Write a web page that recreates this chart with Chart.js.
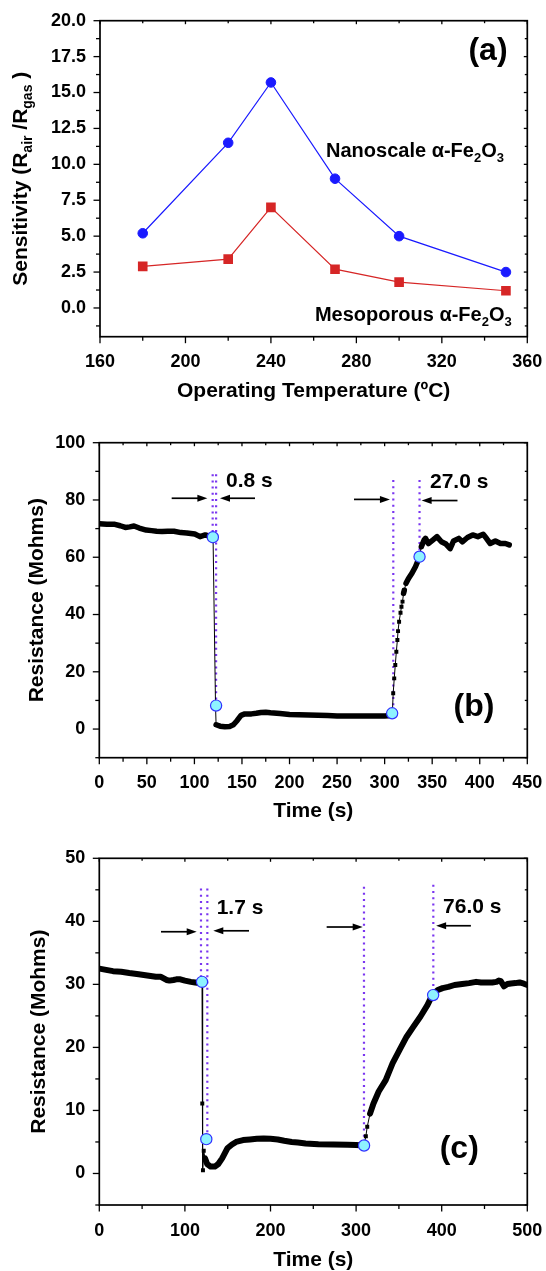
<!DOCTYPE html>
<html>
<head>
<meta charset="utf-8">
<script src="https://cdn.jsdelivr.net/npm/chart.js@4.4.1/dist/chart.umd.min.js"></script>
<style>
  html, body { margin: 0; padding: 0; background: #fff; }
  body { width: 546px; height: 1271px; position: relative; overflow: hidden; }
  .panneau { position: absolute; left: 0; width: 546px; }
</style>
</head>
<body>
<div class="panneau" style="top:0;height:420px"><canvas id="graph-a" width="546" height="420"></canvas></div>
<div class="panneau" style="top:420px;height:420px"><canvas id="graph-b" width="546" height="420"></canvas></div>
<div class="panneau" style="top:840px;height:431px"><canvas id="graph-c" width="546" height="431"></canvas></div>
<script>
/* ================= données ================= */

/* (a) sensibilité vs température */
const tempA  = [180, 220, 240, 270, 300, 350];
const nanoA  = [5.2, 11.5, 15.7, 9.0, 5.0, 2.5];
const mesoA  = [2.9, 3.4, 7.0, 2.7, 1.8, 1.2];
const xTicksA = [160, 200, 240, 280, 320, 360];
const yTicksA = [0, 2.5, 5, 7.5, 10, 12.5, 15, 17.5, 20];

/* (b) résistance vs temps */
const tempsB = [0, 8, 16.4, 22, 27.4, 32, 36.5, 42, 49.3, 55, 60.3, 66, 72, 78.5, 85.8, 92, 100.4, 105.9, 111.4, 116.9, 119.6,
  122.2, 122.8, 127, 132, 137, 141, 145, 149, 153, 160, 165, 170, 175, 180, 190, 200, 210, 220, 230, 240, 250, 260, 270, 280, 290, 300, 308,
  309, 310.1, 311.2, 312.3, 313.4, 314.1, 315.2, 316.7, 317.7, 318.8, 319.9, 320.7, 322.5, 325.1, 328.7, 332.4, 335.3, 336.7, 338.6, 341.5,
  343, 346, 350.6, 355, 359.7, 364.5, 368.9, 372.5, 378, 381.7, 387.1, 392.6, 398, 403.6, 407, 411, 416.4, 421.8, 427, 431];
const resB = [71.7, 71.5, 71.5, 71.0, 70.4, 70.6, 70.9, 70.2, 69.5, 69.3, 69.1, 69.0, 69.1, 69.1, 68.6, 68.5, 68.1, 67.2, 67.8, 67.2, 67.0,
  8.2, 1.5, 1.0, 0.8, 0.9, 1.5, 3.0, 4.8, 5.3, 5.3, 5.5, 5.8, 5.9, 5.7, 5.4, 5.1, 5.0, 4.9, 4.8, 4.7, 4.6, 4.6, 4.6, 4.6, 4.6, 4.6, 4.7,
  12.5, 17.7, 22.4, 27.0, 31.1, 34.2, 37.5, 40.6, 42.7, 44.5, 47.4, 48.5, 50.9, 52.6, 54.4, 56.7, 59.0, 60.2, 63.7, 66.0,
  66.6, 64.8, 66.0, 67.2, 65.4, 64.6, 63.0, 65.7, 66.6, 65.4, 66.9, 67.8, 67.2, 68.0, 66.6, 64.8, 65.7, 64.8, 64.8, 64.3];
const reperesTB = [119.4, 122.8, 307.9, 336.7];   /* points 10 % / 90 % */
const reperesRB = [67.0, 8.2, 5.5, 60.2];
const xTicksB = [0, 50, 100, 150, 200, 250, 300, 350, 400, 450];
const yTicksB = [0, 20, 40, 60, 80, 100];

/* (c) résistance vs temps */
const tempsC = [0, 8, 16, 25.6, 35, 46, 56, 66, 72, 78.5, 82, 86.6, 90, 94.7, 100, 106.9, 112, 117, 120,
  120.3, 121.1, 122, 123.5, 126, 130, 135, 139, 143.5, 149.6, 155, 159.8, 168, 176, 184, 192, 200, 208.5, 216, 224.8, 232, 241, 256, 273.6, 290, 300, 309.3,
  311.4, 313, 316.3, 320.3, 326.4, 334.6, 342.7, 350.8, 359, 367, 375.2, 383.3, 389, 395.5, 401, 407.7, 415, 424, 432, 440.2, 446, 452.4, 459, 464,
  466.7, 469, 472.8, 476.8, 480.9, 486, 491, 496, 500];
const resC = [32.5, 32.3, 32.1, 32.0, 31.8, 31.6, 31.4, 31.2, 31.2, 30.7, 30.6, 30.7, 30.8, 30.8, 30.6, 30.4, 30.3, 30.2, 30.4,
  11.1, 0.5, 3.6, 2.4, 1.5, 1.1, 1.1, 1.5, 2.4, 4.0, 4.6, 5.0, 5.3, 5.4, 5.5, 5.55, 5.5, 5.4, 5.2, 5.0, 4.9, 4.76, 4.65, 4.6, 4.55, 4.5, 4.45,
  5.9, 7.4, 9.5, 11.1, 13.0, 14.8, 17.5, 19.6, 21.7, 23.3, 24.9, 26.7, 28.3, 29.1, 29.4, 29.6, 29.9, 30.05, 30.2, 30.4, 30.3, 30.3, 30.3, 30.4,
  30.6, 30.5, 29.7, 30.05, 30.15, 30.2, 30.3, 30.1, 29.9];
const reperesTC = [120, 125, 309.3, 390];
const reperesRC = [30.4, 5.45, 4.44, 28.3];
const xTicksC = [0, 100, 200, 300, 400, 500];
const yTicksC = [0, 10, 20, 30, 40, 50];

/* pointillés verticaux : temps, haut, bas */
const pointillesB = [[119.2, 89, 67], [122.8, 89, 8.2], [309.1, 87, 5.5], [336.7, 87, 60.2]];
const pointillesC = [[118.8, 45.2, 30.4], [126.2, 45.2, 5.45], [309.2, 45.5, 4.44], [390.2, 45.8, 28.3]];
/* flèches : départ, pointe, niveau */
const flechesB = [[76.1, 113.6, 80.6], [163.7, 126.9, 80.6], [267.8, 305.6, 80.2], [376.6, 338.9, 79.8]];
const flechesC = [[72.1, 113.8, 38.35], [174.9, 133.2, 38.5], [265.6, 307.7, 39.1], [434.1, 393.5, 39.3]];

/* ================= rendu ================= */
const POLICE = '"Liberation Sans", Arial, Helvetica, sans-serif';
const VIOLET = '#7a35f0';
Chart.defaults.font.family = POLICE;
Chart.defaults.color = '#000';
Chart.defaults.animation = false;

const pts = (xs, ys) => xs.map((x, i) => ({ x, y: ys[i] }));

/* texte avec indices : morceaux = [texte, indice?] */
function largeurRiche(ctx, morceaux, taille){
  let w = 0;
  for (const [t, sub] of morceaux){ ctx.font = `bold ${sub ? Math.round(taille*0.66) : taille}px ${POLICE}`; w += ctx.measureText(t).width; }
  return w;
}
function texteRiche(ctx, morceaux, x, y, taille){
  let cx = x;
  ctx.textBaseline = 'alphabetic'; ctx.textAlign = 'left';
  for (const [t, sub] of morceaux){
    ctx.font = `bold ${sub ? Math.round(taille*0.66) : taille}px ${POLICE}`;
    ctx.fillText(t, cx, y + (sub ? taille*0.24 : 0));
    cx += ctx.measureText(t).width;
  }
}

/* segment fin (transition rapide) ou épais (acquisition dense) */
function raide(chart, a, b){
  const { x, y } = chart.scales;
  const dx = Math.abs(x.getPixelForValue(b.x) - x.getPixelForValue(a.x));
  const dy = Math.abs(y.getPixelForValue(b.y) - y.getPixelForValue(a.y));
  return dy > 3 * dx + 1;
}
const rayonTransition = ctx => {
  const d = ctx.dataset.data, i = ctx.dataIndex;
  const avant = i > 0 && raide(ctx.chart, d[i-1], d[i]);
  const apres = i < d.length - 1 && raide(ctx.chart, d[i], d[i+1]);
  return (avant || apres) ? 2.8 : 0;
};

/* cadre, graduations majeures/mineures, titres, annotations */
const decor = {
  id: 'decor',
  afterDatasetsDraw(chart, args, o){
    const { ctx, chartArea: a, scales: { x, y } } = chart;
    ctx.save();
    ctx.fillStyle = '#000'; ctx.strokeStyle = '#000';

    /* flèches */
    ctx.lineWidth = 1.7;
    (o.fleches || []).forEach(([x0, x1, v]) => {
      const px0 = x.getPixelForValue(x0), px1 = x.getPixelForValue(x1), py = y.getPixelForValue(v);
      const s = Math.sign(px1 - px0);
      ctx.beginPath(); ctx.moveTo(px0, py); ctx.lineTo(px1 - s*8, py); ctx.stroke();
      ctx.beginPath(); ctx.moveTo(px1, py); ctx.lineTo(px1 - s*10, py - 3.5); ctx.lineTo(px1 - s*10, py + 3.5); ctx.closePath(); ctx.fill();
    });

    /* textes dans le graphe */
    (o.textes || []).forEach(tx => {
      let px = x.getPixelForValue(tx.x);
      if (tx.centre) px -= largeurRiche(ctx, tx.t, tx.taille) / 2;
      texteRiche(ctx, tx.t, px, y.getPixelForValue(tx.y), tx.taille);
    });

    /* cadre + graduations */
    const mineurs = (maj, min, max) => {
      const pas = maj[1] - maj[0], r = [];
      for (let v = maj[0] - pas/2; v <= max + 1e-9; v += pas) if (v >= min - 1e-9) r.push(v);
      return r;
    };
    ctx.lineWidth = 1.3;
    const trait = (x0, y0, x1, y1) => { ctx.beginPath(); ctx.moveTo(x0, y0); ctx.lineTo(x1, y1); ctx.stroke(); };
    const gradX = (vals, lo, li) => vals.forEach(v => { const p = x.getPixelForValue(v);
      trait(p, a.bottom, p, a.bottom + lo); trait(p, a.top, p, a.top + li); });
    const gradY = (vals, lo, li) => vals.forEach(v => { const p = y.getPixelForValue(v);
      trait(a.left, p, a.left - lo, p); trait(a.right, p, a.right - li, p); });
    gradX(o.xMaj, 6.5, 3.5); gradX(mineurs(o.xMaj, x.min, x.max), 4, 2.5);
    gradY(o.yMaj, 6.5, 3.5); gradY(mineurs(o.yMaj, y.min, y.max), 4, 2.5);
    ctx.lineWidth = 1.7;
    ctx.strokeRect(a.left, a.top, a.right - a.left, a.bottom - a.top);

    /* titres d'axes */
    const tX = o.titreX, tY = o.titreY;
    texteRiche(ctx, tX.t, (a.left + a.right)/2 - largeurRiche(ctx, tX.t, tX.taille)/2, tX.ligne, tX.taille);
    ctx.translate(tY.ligne, (a.top + a.bottom)/2);
    ctx.rotate(-Math.PI/2);
    texteRiche(ctx, tY.t, -largeurRiche(ctx, tY.t, tY.taille)/2, 0, tY.taille);
    ctx.restore();
  }
};

/* les marges de débordement des étiquettes sont neutralisées : la zone de tracé suit layout.padding */
function echelles(p){
  return {
    x: { type: 'linear', min: p.xMin, max: p.xMax,
      grid: { display: false, drawTicks: false }, border: { display: false },
      afterBuildTicks: s => { s.ticks = p.xMaj.map(v => ({ value: v })); },
      afterFit: s => { s.height = p.hauteur - p.bas; s.paddingLeft = 0; s.paddingRight = 0; },
      ticks: { font: { size: 18, weight: 'bold' }, padding: 15, maxRotation: 0, autoSkip: false, callback: v => String(v) } },
    y: { type: 'linear', min: p.yMin, max: p.yMax,
      grid: { display: false, drawTicks: false }, border: { display: false },
      afterBuildTicks: s => { s.ticks = p.yMaj.map(v => ({ value: v })); },
      afterFit: s => { s.width = p.gauche; s.paddingTop = 0; s.paddingBottom = 0; },
      ticks: { font: { size: 18, weight: 'bold' }, padding: 14, autoSkip: false, callback: p.fmtY || (v => String(v)) } }
  };
}

function options(p, plug){
  return {
    responsive: false, animation: false,
    layout: { autoPadding: false, padding: { left: 0, right: 546 - p.droite, top: p.haut, bottom: 0 } },
    scales: echelles(p),
    plugins: { legend: { display: false }, tooltip: { enabled: false }, decor: Object.assign({ xMaj: p.xMaj, yMaj: p.yMaj }, plug) }
  };
}

const fe2o3 = [['α', 0], ['-Fe', 0], ['2', 1], ['O', 0], ['3', 1]];
const titreTemps = (ligne) => ({ t: [['Time (s)', 0]], taille: 21, ligne });
const titreRes = (ligne) => ({ t: [['Resistance (Mohms)', 0]], taille: 21, ligne });

/* ---- (a) ---- */
new Chart(document.getElementById('graph-a'), {
  type: 'scatter',
  data: { datasets: [
    { data: pts(tempA, nanoA), showLine: true, borderColor: '#1a1aff', backgroundColor: '#1a1aff', borderWidth: 1.2,
      pointStyle: 'circle', pointRadius: 4.8, pointBorderWidth: 1 },
    { data: pts(tempA, mesoA), showLine: true, borderColor: '#d62626', backgroundColor: '#d62626', borderWidth: 1.2,
      pointStyle: 'rect', pointRadius: 6.8, pointBorderWidth: 0 }
  ]},
  options: options(
    { xMin: 160, xMax: 360, yMin: -2, yMax: 20, xMaj: xTicksA, yMaj: yTicksA, gauche: 100, droite: 527.3, haut: 20.7, bas: 336.7, hauteur: 420,
      fmtY: v => v.toFixed(1) },
    { textes: [
        { t: [['Nanoscale ', 0]].concat(fe2o3), x: 265.8, y: 10.5, taille: 20 },
        { t: [['Mesoporous ', 0]].concat(fe2o3), x: 260.6, y: -0.9, taille: 20 },
        { t: [['(a)', 0]], x: 341.6, y: 17.26, taille: 32, centre: true } ],
      titreX: { t: [['Operating Temperature (ºC)', 0]], taille: 21, ligne: 397.3 },
      titreY: { t: [['Sensitivity (R', 0], ['air', 1], [' /R', 0], ['gas', 1], [' )', 0]], taille: 21, ligne: 27 } })
  ,
  plugins: [decor]
});

/* ---- (b) et (c) : même construction ---- */
function graphResistance(id, temps, res, repT, repR, pointilles, fleches, p, textes, epais){
  const ds = [
    { data: pts(repT, repR), showLine: false, pointStyle: 'circle', pointRadius: 5.6,
      backgroundColor: '#8ef2ff', borderColor: '#3232ff', pointBorderWidth: 1.2, order: 0 },
    { data: pts(temps, res), showLine: true, borderColor: '#000', backgroundColor: '#000', borderWidth: epais,
      borderJoinStyle: 'round', borderCapStyle: 'round',
      segment: { borderWidth: ctx => raide(ctx.chart, { x: temps[ctx.p0DataIndex], y: res[ctx.p0DataIndex] },
                                                     { x: temps[ctx.p1DataIndex], y: res[ctx.p1DataIndex] }) ? 1 : epais },
      pointStyle: 'rect', pointRadius: rayonTransition, pointBorderWidth: 0, pointBackgroundColor: '#000', order: 1 }
  ];
  pointilles.forEach(([t, haut, bas]) => ds.push({
    data: [{ x: t, y: haut }, { x: t, y: bas }], showLine: true, borderColor: VIOLET, borderWidth: 2.2,
    borderDash: [2, 4.2], pointRadius: 0, order: 2 }));
  new Chart(document.getElementById(id), {
    type: 'scatter', data: { datasets: ds },
    options: options(p, { fleches, textes, titreX: titreTemps(p.ligneX), titreY: titreRes(p.ligneY) }),
    plugins: [decor]
  });
}

graphResistance('graph-b', tempsB, resB, reperesTB, reperesRB, pointillesB, flechesB,
  { xMin: 0, xMax: 450, yMin: -10, yMax: 100, xMaj: xTicksB, yMaj: yTicksB, gauche: 99.3, droite: 527.3, haut: 22.7, bas: 337.7, hauteur: 420,
    ligneX: 397.3, ligneY: 43 },
  [ { t: [['0.8 s', 0]], x: 133.2, y: 84.6, taille: 21 },
    { t: [['27.0 s', 0]], x: 347.7, y: 84.1, taille: 21 },
    { t: [['(b)', 0]], x: 394, y: 4.4, taille: 32, centre: true } ], 5.5);

graphResistance('graph-c', tempsC, resC, reperesTC, reperesRC, pointillesC, flechesC,
  { xMin: 0, xMax: 500, yMin: -5, yMax: 50, xMaj: xTicksC, yMaj: yTicksC, gauche: 99.3, droite: 527.3, haut: 18.3, bas: 365, hauteur: 431,
    ligneX: 425.6, ligneY: 44.6 },
  [ { t: [['1.7 s', 0]], x: 137.1, y: 41.1, taille: 21 },
    { t: [['76.0 s', 0]], x: 401.6, y: 41.4, taille: 21 },
    { t: [['(c)', 0]], x: 420.5, y: 2.4, taille: 32, centre: true } ], 6);
</script>
</body>
</html>
